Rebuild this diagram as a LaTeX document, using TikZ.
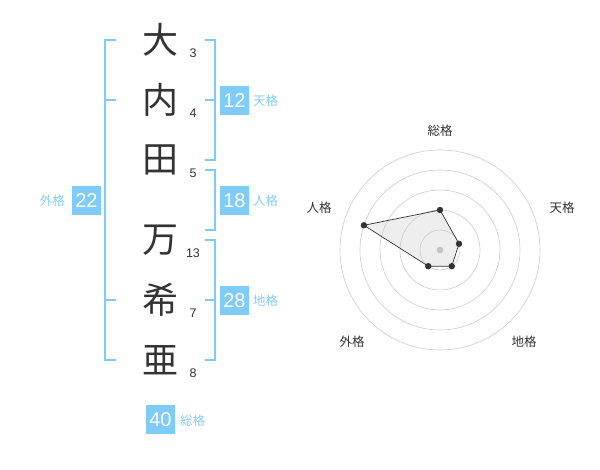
\documentclass[tikz,border=0pt]{standalone}
\usepackage{fontspec}
\setmainfont{Liberation Sans}
\newfontfamily\jp{Noto Sans CJK JP}
\definecolor{ink}{HTML}{333333}
\definecolor{kakublue}{HTML}{80CCF8}
\definecolor{kakutext}{HTML}{88CCF2}
\definecolor{ringgray}{HTML}{CCCCCC}
\definecolor{dotgray}{HTML}{C4C4C4}
\definecolor{polyfill}{HTML}{EEEEEE}
\begin{document}
\begin{tikzpicture}[x=1pt, y=-1pt,
  every node/.style = {inner sep=0pt},
  kanji/.style = {font=\jp\fontsize{36}{36}\selectfont, text=ink},
  strokes/.style = {font=\fontsize{12.5}{12.5}\selectfont, text=ink},
  score/.style = {fill=kakublue, text=white, minimum size=29pt,
    font=\fontsize{20}{20}\selectfont},
  kaku/.style = {font=\jp\fontsize{12.5}{12.5}\selectfont, text=kakutext},
  axis/.style = {font=\jp\fontsize{12.5}{12.5}\selectfont, text=ink},
  bracket/.style = {draw=kakublue, line width=1.6pt},
  ring/.style = {draw=ringgray, line width=0.6pt}]
  \useasboundingbox (0,0) rectangle (600,470);
  % name
  \node [kanji] (k1) at (160,40) {大};
  \node [kanji] (k2) at (160,100) {内};
  \node [kanji] (k3) at (160,160) {田};
  \node [kanji] (k4) at (160,240) {万};
  \node [kanji] (k5) at (160,300) {希};
  \node [kanji] (k6) at (160,360) {亜};
  \node [strokes] (s1) at (193,53) {3};
  \node [strokes] (s2) at (193,113) {4};
  \node [strokes] (s3) at (193,173) {5};
  \node [strokes] (s4) at (193,253) {13};
  \node [strokes] (s5) at (193,313) {7};
  \node [strokes] (s6) at (193,373) {8};
  % brackets
  \draw [bracket] (116,40) -- (105,40) -- (105,360) -- (116,360)
    (105,100) -- (116,100) (105,300) -- (116,300);
  \draw [bracket] (205,40) -- (215,40) -- (215,160) -- (205,160)
    (215,100) -- (205,100);
  \draw [bracket] (205,170) -- (215,170) -- (215,230) -- (205,230);
  \draw [bracket] (205,240) -- (215,240) -- (215,360) -- (205,360)
    (215,300) -- (205,300);
  % scores
  \node [score] (ten) at (234.5,100.5) {12};
  \node [kaku, anchor=west] (tenl) at (253,101) {天格};
  \node [score] (jin) at (234.5,200.5) {18};
  \node [kaku, anchor=west] (jinl) at (253,201) {人格};
  \node [score] (chi) at (234.5,300.5) {28};
  \node [kaku, anchor=west] (chil) at (253,301) {地格};
  \node [score] (gai) at (86.5,200.5) {22};
  \node [kaku, anchor=east] (gail) at (65,201) {外格};
  \node [score] (sou) at (160.5,419.5) {40};
  \node [kaku, anchor=west] (soul) at (180,421) {総格};
  % radar
  \begin{scope}[shift={(440,250)}, yscale=-1]
    \coordinate (p1) at (90:40);
    \coordinate (p2) at (18:20);
    \coordinate (p3) at (-54:20);
    \coordinate (p4) at (-126:20);
    \coordinate (p5) at (162:80);
    \fill [polyfill] (p1) -- (p2) -- (p3) -- (p4) -- (p5) -- cycle;
    \foreach \r in {20,40,60,80,100}
      \draw [ring] (0,0) circle [radius=\r pt];
    \fill [dotgray] (0,0) circle [radius=3.3pt];
    \draw [ink, line width=0.7pt]
      (p1) -- (p2) -- (p3) -- (p4) -- (p5) -- cycle;
    \foreach \p in {p1,p2,p3,p4,p5}
      \fill [ink] (\p) circle [radius=3.2pt];
  \end{scope}
  \node [axis] (a1) at (440,131) {総格};
  \node [axis] (a2) at (562,208) {天格};
  \node [axis] (a3) at (524,342) {地格};
  \node [axis] (a4) at (352,342) {外格};
  \node [axis] (a5) at (319,208) {人格};
\end{tikzpicture}
\end{document}
